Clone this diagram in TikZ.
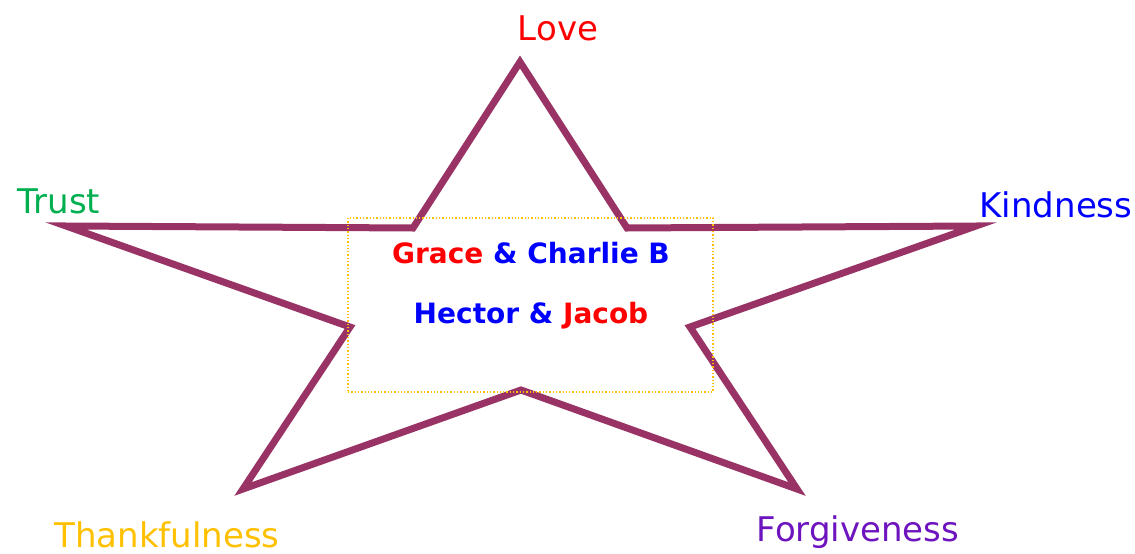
\documentclass[tikz,border=0pt]{standalone}
\usepackage{fontspec}
\setmainfont{DejaVu Sans}
\definecolor{starc}{RGB}{153,51,102}
\definecolor{rectc}{RGB}{255,192,0}
\definecolor{lovec}{RGB}{255,0,0}
\definecolor{trustc}{RGB}{0,176,80}
\definecolor{kindc}{RGB}{0,0,255}
\definecolor{thankc}{RGB}{255,192,0}
\definecolor{forgc}{RGB}{110,20,190}
\tikzset{
  lbl/.style={inner sep=0pt, font=\fontsize{34}{40}\selectfont},
  ctr/.style={inner sep=0pt, font=\fontsize{28}{32}\selectfont\bfseries},
  starline/.style={draw=starc, line width=7pt, line join=miter},
}
\begin{document}
\begin{tikzpicture}[x=1pt,y=-1pt]
\useasboundingbox (0,0) rectangle (1135,554);
\coordinate (p1) at (520,62);
\coordinate (i1) at (627,228);
\coordinate (p2) at (976,226);
\coordinate (i2) at (690,327);
\coordinate (p3) at (797,489);
\coordinate (i3) at (521,390);
\coordinate (p4) at (243,489);
\coordinate (i4) at (350,327);
\coordinate (p5) at (66,226);
\coordinate (i5) at (413,228);
\draw[starline] (p1) -- (i1) -- (p2) -- (i2) -- (p3) -- (i3) -- (p4) -- (i4) -- (p5) -- (i5) -- cycle;
\node[draw=rectc, dotted, line width=1.3pt, minimum width=365pt, minimum height=174pt, inner sep=0pt] (box) at (530.5,305) {};
\node[lbl, text=lovec, anchor=base] (love) at (558,40) {Love};
\node[lbl, text=trustc, anchor=base] (trust) at (59,213) {Trust};
\node[lbl, text=kindc, anchor=base] (kind) at (1056,217) {Kindness};
\node[lbl, text=thankc, anchor=base] (thank) at (167,547) {Thankfulness};
\node[lbl, text=forgc, anchor=base] (forg) at (858,541) {Forgiveness};
\node[ctr, anchor=base] (l1) at (531,263) {\textcolor{lovec}{Grace} \textcolor{kindc}{\& Charlie B}};
\node[ctr, anchor=base] (l2) at (531,323) {\textcolor{kindc}{Hector \&} \textcolor{lovec}{Jacob}};
\end{tikzpicture}
\end{document}
